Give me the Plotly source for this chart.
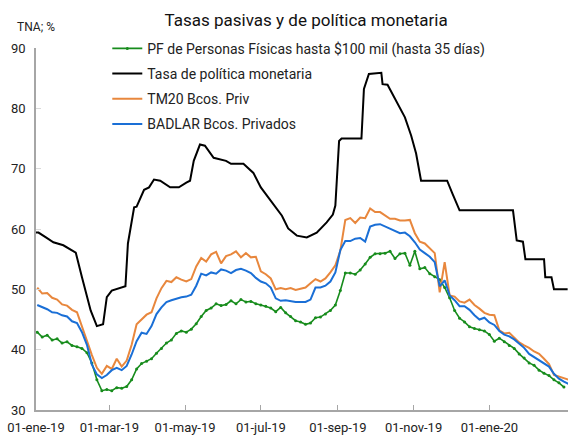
import pandas as pd
import plotly.graph_objects as go

# Fechas comunes (cada 4 días) para las series de tasas pasivas
fechas = pd.date_range("2019-01-02", periods=108, freq="4D")

pf_personas = [
    42.9, 42.1, 42.4, 41.6, 41.8, 41.1, 41.3, 40.7, 40.5, 40.2,
    39.5, 37.8, 35.0, 33.2, 33.4, 33.2, 33.7, 33.6, 33.9, 35.0,
    36.8, 37.7, 38.1, 38.5, 39.4, 40.2, 41.1, 41.6, 42.7, 43.1,
    42.9, 43.4, 44.3, 45.5, 46.5, 46.9, 47.6, 47.3, 47.5, 48.1,
    47.6, 48.3, 47.9, 48.0, 47.6, 47.4, 47.2, 46.9, 46.3, 47.0,
    46.1, 45.5, 44.8, 44.6, 44.2, 44.4, 45.3, 45.4, 45.9, 46.5,
    47.4, 49.8, 52.7, 52.7, 52.5, 53.2, 54.2, 55.3, 55.9, 55.9,
    56.0, 56.3, 55.1, 55.9, 56.0, 54.0, 56.3, 53.4, 53.6, 52.6,
    52.1, 51.6, 50.3, 48.6, 46.5, 45.2, 44.6, 43.8, 43.5, 43.3,
    43.1, 42.5, 41.4, 41.9, 41.3, 40.7, 40.2, 39.3, 38.6, 37.8,
    37.4, 36.6, 36.1, 35.7, 35.0, 34.5, 33.8, None,
]

tm20_priv = [
    50.3, 49.3, 49.4, 48.6, 48.3, 47.5, 47.3, 46.6, 46.2, 43.8,
    41.2, 39.1, 37.0, 36.0, 37.3, 36.8, 38.5, 37.2, 38.2, 40.8,
    44.2, 45.0, 45.8, 46.2, 48.5, 50.2, 51.4, 51.2, 52.0, 51.6,
    51.3, 51.7, 53.8, 55.2, 54.6, 55.8, 56.2, 54.3, 55.5, 55.8,
    56.3, 55.3, 56.0, 55.3, 55.4, 53.0, 52.5, 51.8, 50.0, 50.2,
    50.0, 50.2, 49.9, 50.1, 50.3, 51.0, 51.7, 51.3, 51.8, 52.8,
    54.0, 56.4, 61.5, 61.8, 61.0, 61.9, 61.8, 63.4, 62.8, 62.8,
    62.2, 61.7, 61.7, 61.4, 61.4, 61.5, 59.3, 57.9, 57.6, 56.8,
    56.0, 49.5, 54.5, 49.0, 48.8, 48.0, 47.8, 48.3, 47.4, 46.8,
    46.1, 45.8, 45.7, 43.2, 42.7, 42.8, 42.0, 41.2, 40.7, 40.3,
    39.7, 39.3, 38.5, 37.6, 35.8, 35.5, 35.3, 35.0,
]

badlar_priv = [
    47.4, 47.1, 46.7, 46.2, 46.1, 45.7, 45.5, 44.7, 44.4, 42.9,
    40.8, 37.5, 35.9, 35.3, 35.8, 36.6, 37.0, 36.6, 37.3, 39.2,
    41.4, 42.8, 42.6, 43.9, 45.9, 47.0, 47.9, 48.2, 48.5, 48.7,
    48.8, 49.1, 50.6, 52.6, 52.3, 52.8, 52.6, 53.3, 53.1, 52.7,
    53.2, 53.4, 53.1, 52.7, 51.9, 51.3, 51.0, 50.3, 48.5, 48.1,
    48.2, 48.0, 47.9, 47.9, 47.9, 48.3, 50.3, 50.3, 50.6, 51.3,
    52.8, 56.5, 58.0, 58.0, 58.4, 58.5, 57.9, 60.4, 60.7, 60.8,
    60.4, 60.0, 59.6, 59.3, 59.4, 58.8, 57.8, 56.6, 56.0, 55.4,
    54.5, 50.5, 51.5, 49.0, 48.2, 47.2, 47.2, 46.6, 45.7, 45.0,
    45.3, 44.5, 44.1, 43.1, 42.5, 42.2, 41.7, 41.0, 40.3, 39.3,
    38.8, 38.3, 37.7, 37.2, 36.0, 35.2, 34.7, 34.3,
]

# Tasa de política monetaria
tpm_fechas = [
    "2019-01-01", "2019-01-03", "2019-01-09", "2019-01-15", "2019-01-23",
    "2019-02-02", "2019-02-07", "2019-02-14", "2019-02-19", "2019-02-24",
    "2019-02-27", "2019-03-03", "2019-03-14", "2019-03-16", "2019-03-21",
    "2019-03-23", "2019-03-29", "2019-04-02", "2019-04-06", "2019-04-11",
    "2019-04-19", "2019-04-26", "2019-05-02", "2019-05-05", "2019-05-08",
    "2019-05-13", "2019-05-17", "2019-05-24", "2019-06-03", "2019-06-07",
    "2019-06-17", "2019-06-25", "2019-07-01", "2019-07-11", "2019-07-18",
    "2019-07-23", "2019-07-30", "2019-08-07", "2019-08-15", "2019-08-23",
    "2019-08-28", "2019-08-30", "2019-09-02", "2019-09-04", "2019-09-20",
    "2019-09-22", "2019-09-26", "2019-10-06", "2019-10-07", "2019-10-11",
    "2019-10-15", "2019-10-19", "2019-10-25", "2019-10-30", "2019-11-03",
    "2019-11-07", "2019-11-28", "2019-12-02", "2019-12-08", "2020-01-20",
    "2020-01-23", "2020-01-28", "2020-01-30", "2020-02-14", "2020-02-15",
    "2020-02-20", "2020-02-22", "2020-03-04",
]
tpm = [
    59.4, 59.4, 58.6, 57.8, 57.3,
    56.1, 52.0, 46.5, 43.9, 44.2,
    48.7, 49.8, 50.5, 57.6, 63.6,
    63.7, 66.5, 66.9, 68.2, 68.0,
    66.9, 66.9, 67.7, 68.0, 71.3,
    74.0, 73.8, 71.8, 71.3, 70.8,
    70.8, 69.3, 66.9, 64.2, 62.2,
    60.1, 58.9, 58.6, 59.4, 61.1,
    62.4, 63.9, 74.6, 75.0, 75.0,
    83.2, 85.7, 85.9, 84.0, 83.9,
    82.4, 80.9, 78.5, 75.5, 72.5,
    68.0, 68.0, 66.0, 63.1, 63.1,
    58.1, 57.9, 55.0, 55.0, 52.0,
    52.0, 50.0, 50.0,
]

tick_fechas = ["2019-01-01", "2019-03-01", "2019-05-01", "2019-07-01",
               "2019-09-01", "2019-11-01", "2020-01-01"]
tick_textos = ["01-ene-19", "01-mar-19", "01-may-19", "01-jul-19",
               "01-sep-19", "01-nov-19", "01-ene-20"]

fig = go.Figure()
fig.add_trace(go.Scatter(
    x=fechas, y=pf_personas, mode="lines+markers",
    name="PF de Personas Físicas hasta $100 mil (hasta 35 días)",
    line=dict(color="#178c1c", width=1.6), marker=dict(size=3, color="#178c1c"),
    legendgroup="a",
))
fig.add_trace(go.Scatter(
    x=tpm_fechas, y=tpm, mode="lines", name="Tasa de política monetaria",
    line=dict(color="#000000", width=2), legendgroup="b",
))
fig.add_trace(go.Scatter(
    x=fechas, y=tm20_priv, mode="lines", name="TM20 Bcos. Priv",
    line=dict(color="#e8873d", width=2), legendgroup="c",
))
fig.add_trace(go.Scatter(
    x=fechas, y=badlar_priv, mode="lines", name="BADLAR Bcos. Privados",
    line=dict(color="#1a6fd6", width=2), legendgroup="d",
))

fig.update_layout(
    width=568, height=437,
    margin=dict(l=36, r=0, t=48, b=27, autoexpand=False),
    paper_bgcolor="white", plot_bgcolor="white",
    font=dict(family="Roboto", size=13, color="#222222"),
    title=dict(text="Tasas pasivas y de política monetaria",
               x=0.539, xanchor="center", y=0.954, yanchor="middle",
               font=dict(size=17, color="#111111")),
    showlegend=True,
    legend=dict(x=0.134, y=1.042, xanchor="left", yanchor="top",
                bgcolor="rgba(0,0,0,0)", font=dict(size=14, color="#222222"),
                tracegroupgap=4, itemwidth=30),
    annotations=[dict(text="TNA; %", xref="paper", yref="paper",
                      x=0.0, y=1.058, xanchor="center", yanchor="middle",
                      showarrow=False, font=dict(size=12, color="#222222"))],
)
fig.update_xaxes(
    type="date", range=["2019-01-01", "2020-03-04 07:00"],
    tickvals=tick_fechas, ticktext=tick_textos,
    showgrid=False, zeroline=False, automargin=False,
    showline=True, linecolor="#a6a6a6", linewidth=1.5,
    ticks="inside", ticklen=5, tickcolor="#a6a6a6",
    tickfont=dict(size=13, color="#222222"), ticklabelstandoff=5,
)
fig.update_yaxes(
    range=[30, 90], dtick=10,
    showgrid=False, zeroline=False, automargin=False,
    showline=True, linecolor="#a6a6a6", linewidth=1.5,
    ticks="inside", ticklen=5, tickcolor="#d9d9d9",
    tickfont=dict(size=13, color="#222222"), ticklabelstandoff=6,
)

fig.write_html("out.html", config={"displayModeBar": False},
               post_script="document.body.style.margin='0';document.body.style.padding='0';")
